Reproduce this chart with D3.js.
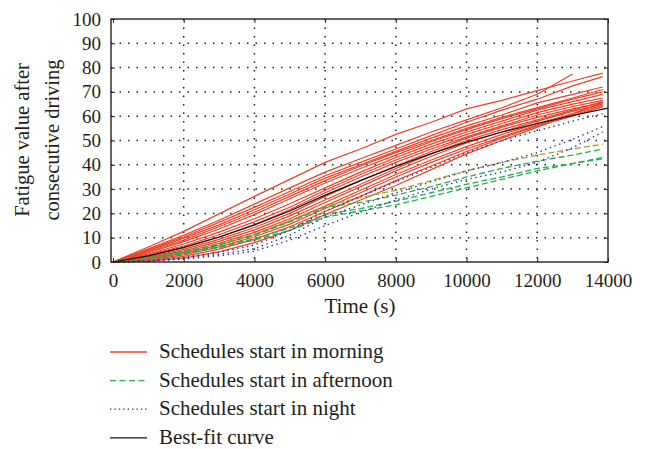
<!DOCTYPE html>
<html>
<head>
<meta charset="utf-8">
<script src="https://cdn.jsdelivr.net/npm/d3@7"></script>
<style>
  body { margin: 0; background: #fff; }
  text { font-family: "Liberation Serif", "DejaVu Serif", serif; fill: #231f20; }
</style>
</head>
<body>
<div id="chart"></div>
<script>
// sample times (s) of the schedules, last point just before the frame
var schedTimes = [0, 1000, 2000, 3000, 4000, 5000, 6000, 7000, 8000, 9000, 10000, 11000, 12000, 13000, 13850];
var fitTimes = [0, 1000, 2000, 3000, 4000, 5000, 6000, 7000, 8000, 9000, 10000, 11000, 12000, 13000, 14000];

// schedules start in morning
var morning = [
  [0, 6.2, 12.6, 19.8, 27, 34, 41, 46.5, 52.5, 57.5, 63, 66.5, 70.5, 74.5, 77.7],
  [0, 5.4, 11, 17.2, 23.8, 30.5, 37, 42.5, 48, 53.5, 58.5, 63.5, 69, 77.4, null],
  [0, 5, 10.4, 16.3, 22.5, 29, 35.5, 41, 46.5, 52, 57.5, 62.5, 67, 72.5, 76.3],
  [0, 4.6, 9.8, 15.3, 21.5, 28, 34.5, 40, 45.5, 51, 56, 60.5, 65.5, 69, 72],
  [0, 4.2, 9, 14.5, 20.5, 27, 33.5, 39.5, 45, 50, 55, 59.5, 63.5, 67.5, 71],
  [0, 3.8, 8.4, 13.6, 19.5, 26, 32.5, 38.5, 44, 49.5, 54.5, 59, 63, 67, 70],
  [0, 3.3, 7.4, 12.3, 17.8, 24, 30.5, 37, 43, 48.5, 53.5, 58, 62.5, 66, 69],
  [0, 2.9, 6.6, 11.2, 16.5, 22.5, 29.5, 36, 42, 47.5, 52.5, 57, 61.5, 65, 67.5],
  [0, 2.5, 5.9, 10.2, 15.3, 21.5, 28.5, 35, 41, 46.5, 51.5, 56, 60.5, 64, 66.5],
  [0, 2.1, 5.2, 9.3, 14.2, 20, 27, 33.5, 39.5, 45.5, 51, 55.5, 59.5, 63, 65.6],
  [0, 1.8, 4.6, 8.5, 13.2, 19, 25.5, 32, 38.5, 44.5, 50, 54.5, 58.5, 62.5, 66],
  [0, 1.5, 4, 7.7, 12.2, 17.8, 24.5, 31, 37.5, 43.5, 49, 53.5, 58, 62, 65],
  [0, 1.2, 3.5, 7, 11.3, 16.8, 23, 29.5, 36, 42, 47.5, 52.5, 57, 61, 64.5],
  [0, 0.9, 2.9, 6.2, 10.4, 15.6, 22, 28.5, 35, 41, 46.5, 51.5, 56.5, 60.5, 64],
  [0, 0.6, 2.3, 5.3, 9.4, 14.5, 20.8, 27, 33.5, 39.5, 45.5, 51, 56, 60, 63.8],
  [0, 0.3, 1.6, 4.2, 8, 13, 19.5, 25.5, 31.5, 38, 44.5, 50, 55.5, 61, 65.6]
];

// schedules start in afternoon (first one is the olive trace)
var afternoon = [
  [0, 1.5, 4, 7.5, 11.5, 17, 23, 26.5, 29.5, 33.5, 37.5, 41, 44, 46.5, 48.5],
  [0, 1.8, 4.3, 7.2, 11, 16.5, 22.5, 24.5, 27.5, 31, 35, 38.5, 41.5, 44, 46.5],
  [0, 1.6, 3.8, 6.5, 9.5, 14, 19.5, 22, 25, 28.5, 32, 35, 38.5, 40.5, 43],
  [0, 1.4, 3.4, 6, 9, 13, 18.5, 21, 23.5, 27, 30.5, 34, 37.5, 40.5, 42.5]
];
var afternoonColors = ["#a9a424", "#22b04b", "#22b04b", "#22b04b"];

// schedules start in night
var night = [
  [0, 0.5, 1.8, 4, 7, 13, 21, 27, 33, 39, 45, 50, 54, 58, 61],
  [0, 0.4, 1.5, 3.2, 5.5, 11, 18.5, 23.5, 28.5, 33, 37.5, 41, 45, 50.5, 55.7],
  [0, 0.3, 1.2, 2.6, 4.5, 9, 15, 20.5, 25.5, 30, 34, 37, 41, 47, 53.5]
];

// best-fit curve
var bestFit = [0, 2.5, 6, 10.3, 15.3, 21, 27.5, 33.5, 39.3, 44.6, 49.4, 53.5, 57, 60.3, 63.3];

var xTicks = [0, 2000, 4000, 6000, 8000, 10000, 12000, 14000];
var yTicks = [0, 10, 20, 30, 40, 50, 60, 70, 80, 90, 100];

var legendNames = ["Schedules start in morning", "Schedules start in afternoon", "Schedules start in night", "Best-fit curve"];

var width = 654,
    height = 449,
    pLeft = 111, pRight = 608, pTop = 19, pBottom = 262;

var red = "#ee4027", green = "#22b04b", blue = "#2e2ea6";

var svg = d3.select("#chart").append("svg")
    .attr("width", width)
    .attr("height", height);

var x = d3.scaleLinear().domain([-56, 14000]).range([pLeft, pRight]);
var y = d3.scaleLinear().domain([0, 100]).range([pBottom, pTop]);

// dotted grid
svg.append("g").selectAll("line")
    .data(xTicks.slice(1, -1))
  .enter().append("line")
    .attr("x1", d => x(d)).attr("x2", d => x(d))
    .attr("y1", pTop).attr("y2", pBottom)
    .attr("stroke", "#222").attr("stroke-width", 1.5)
    .attr("stroke-dasharray", "1.5,7");

svg.append("g").selectAll("line")
    .data(yTicks.slice(1, -1))
  .enter().append("line")
    .attr("x1", pLeft).attr("x2", pRight)
    .attr("y1", d => y(d)).attr("y2", d => y(d))
    .attr("stroke", "#222").attr("stroke-width", 1.5)
    .attr("stroke-dasharray", "1.5,7");

function series(times) {
  return function(vals) {
    return vals.map(function(v, i) { return [times[i], v]; });
  };
}

var line = d3.line()
    .defined(d => d[1] != null)
    .x(d => x(d[0]))
    .y(d => y(d[1]));

var plot = svg.append("g");

plot.selectAll(".morning")
    .data(morning.map(series(schedTimes)))
  .enter().append("path")
    .attr("class", "morning")
    .attr("d", line)
    .attr("fill", "none")
    .attr("stroke", red)
    .attr("stroke-width", 1.2);

plot.selectAll(".afternoon")
    .data(afternoon.map(series(schedTimes)))
  .enter().append("path")
    .attr("class", "afternoon")
    .attr("d", line)
    .attr("fill", "none")
    .attr("stroke", (d, i) => afternoonColors[i])
    .attr("stroke-width", 1.3)
    .attr("stroke-dasharray", "6,3");

plot.selectAll(".night")
    .data(night.map(series(schedTimes)))
  .enter().append("path")
    .attr("class", "night")
    .attr("d", line)
    .attr("fill", "none")
    .attr("stroke", blue)
    .attr("stroke-width", 1.4)
    .attr("stroke-dasharray", "1.4,3.6");

plot.append("path")
    .datum(series(fitTimes)(bestFit))
    .attr("d", line)
    .attr("fill", "none")
    .attr("stroke", "#111")
    .attr("stroke-width", 1.2);

// axes with inward ticks on all four sides
var axisB = d3.axisBottom(x).tickValues(xTicks).tickSize(-4).tickPadding(12).tickFormat(d3.format("d"));
var axisT = d3.axisTop(x).tickValues(xTicks).tickSize(-4).tickFormat("");
var axisL = d3.axisLeft(y).tickValues(yTicks).tickSize(-4).tickPadding(10);
var axisR = d3.axisRight(y).tickValues(yTicks).tickSize(-4).tickFormat("");

function styleAxis(g) {
  g.select(".domain").remove();
  g.selectAll(".tick line").attr("stroke", "#222").attr("stroke-width", 1);
  g.selectAll(".tick text").style("font-size", "19px").attr("fill", "#231f20")
    .style("font-family", "'Liberation Serif', serif");
}

svg.append("g").attr("transform", "translate(0," + pBottom + ")").call(axisB).call(styleAxis);
svg.append("g").attr("transform", "translate(0," + pTop + ")").call(axisT).call(styleAxis);
svg.append("g").attr("transform", "translate(" + pLeft + ",0)").call(axisL).call(styleAxis);
svg.append("g").attr("transform", "translate(" + pRight + ",0)").call(axisR).call(styleAxis);

svg.append("rect")
    .attr("x", pLeft).attr("y", pTop)
    .attr("width", pRight - pLeft).attr("height", pBottom - pTop)
    .attr("fill", "none").attr("stroke", "#222").attr("stroke-width", 1.4);

// axis titles
svg.append("text")
    .attr("x", 360).attr("y", 313)
    .attr("text-anchor", "middle")
    .style("font-size", "21px")
    .text("Time (s)");

var yTitle = svg.append("text")
    .attr("transform", "translate(0,140) rotate(-90)")
    .attr("text-anchor", "middle")
    .style("font-size", "20.5px");
yTitle.append("tspan").attr("x", 0).attr("y", 29).text("Fatigue value after");
yTitle.append("tspan").attr("x", 0).attr("y", 59).text("consecutive driving");

// legend
var legendStyles = [
  {color: red, dash: null},
  {color: green, dash: "6,3.5"},
  {color: blue, dash: "1.4,3"},
  {color: "#111", dash: null}
];

var legend = svg.selectAll(".legend")
    .data(legendNames)
  .enter().append("g")
    .attr("class", "legend")
    .attr("transform", (d, i) => "translate(0," + (352 + i * 28.6) + ")");

legend.append("line")
    .attr("x1", 110).attr("x2", 147)
    .attr("stroke", (d, i) => legendStyles[i].color)
    .attr("stroke-width", 1.3)
    .attr("stroke-dasharray", (d, i) => legendStyles[i].dash);

legend.append("text")
    .attr("x", 159).attr("y", 6)
    .style("font-size", "21px")
    .text(d => d);
</script>
</body>
</html>
